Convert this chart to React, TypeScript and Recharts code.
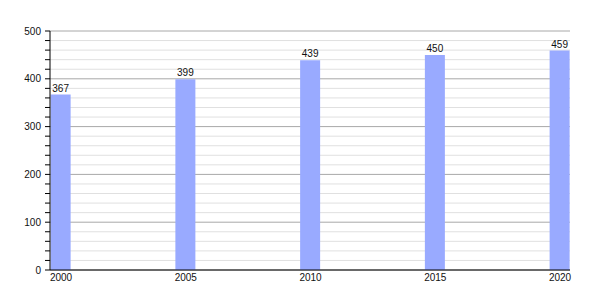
import React from "react";
import {
  BarChart,
  Bar,
  XAxis,
  YAxis,
  CartesianGrid,
  LabelList,
} from "recharts";

const YEARS = [2000, 2005, 2010, 2015, 2020];
const POPULATION = [367, 399, 439, 450, 459];
const Y_TICKS = Array.from({ length: 26 }, (_, i) => i * 20);
const Y_LABELS = [0, 100, 200, 300, 400, 500];

const FONT = "'Liberation Sans', Arial, sans-serif";

const data = YEARS.map((year, i) => ({ year, value: POPULATION[i] }));

interface TickProps {
  x?: number;
  y?: number;
  payload?: { value: number };
}

function YTick({ x = 0, y = 0, payload }: TickProps) {
  if (!payload || !Y_LABELS.includes(payload.value)) return null;
  return (
    <text
      x={x}
      y={y}
      dy="0.355em"
      textAnchor="end"
      fontSize={10}
      fontFamily={FONT}
      fill="#111"
    >
      {payload.value}
    </text>
  );
}

interface GridLineProps {
  x1?: number;
  x2?: number;
  y1?: number;
  y2?: number;
  index?: number;
}

function GridLine({ x1, x2, y1, y2, index = 0 }: GridLineProps) {
  const major = index % 5 === 0;
  return (
    <line
      x1={x1}
      x2={x2}
      y1={y1}
      y2={y2}
      stroke={major ? "#a8a8a8" : "#e0e0e0"}
      strokeWidth={1}
    />
  );
}

export default function App() {
  return (
    <div style={{ position: "absolute", left: 0, top: 0, background: "#fff" }}>
      <BarChart
        width={600}
        height={300}
        data={data}
        margin={{ top: 31, right: 30, bottom: 0, left: 0 }}
      >
        <CartesianGrid
          vertical={false}
          horizontal={(props: GridLineProps) => <GridLine {...props} />}
        />
        <XAxis
          dataKey="year"
          type="number"
          domain={[2000, 2020]}
          ticks={YEARS}
          padding={{ left: 11, right: 10 }}
          height={30}
          tickLine={false}
          tickSize={0}
          tickMargin={4}
          axisLine={{ stroke: "#000" }}
          tick={{ fill: "#111", fontSize: 10, fontFamily: FONT }}
          interval={0}
        />
        <YAxis
          width={50}
          domain={[0, 500]}
          ticks={Y_TICKS}
          interval={0}
          tickSize={5}
          tickMargin={4}
          tickLine={{ stroke: "#000" }}
          axisLine={{ stroke: "#000" }}
          tick={<YTick />}
        />
        <Bar
          dataKey="value"
          fill="#99aaff"
          barSize={20}
          isAnimationActive={false}
        >
          <LabelList
            dataKey="value"
            position="top"
            offset={3}
            fill="#111"
            fontSize={10}
            fontFamily={FONT}
          />
        </Bar>
      </BarChart>
    </div>
  );
}
